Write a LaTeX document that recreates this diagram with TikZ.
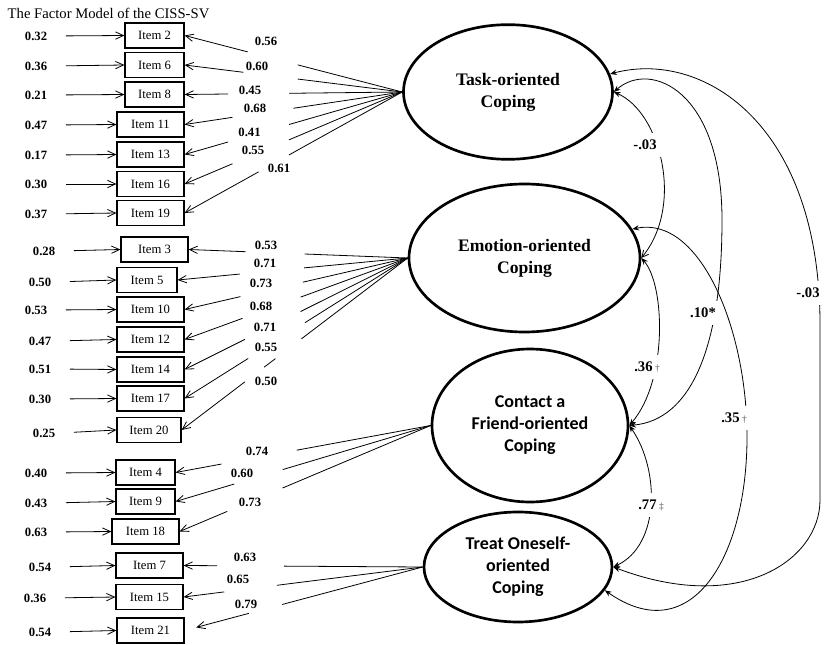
\documentclass[tikz,border=0pt]{standalone}
\usepackage{fontspec}
\setmainfont{Liberation Serif}
\newfontfamily\calibri{Carlito}
\usetikzlibrary{arrows.meta,shapes.geometric,calc}

\tikzset{
  item/.style={draw, line width=0.9pt, minimum height=18.75pt, inner sep=0pt, font=\fontsize{9.5}{11}\selectfont},
  err/.style={font=\fontsize{9.5}{11}\selectfont\bfseries},
  load/.style={line width=0.6pt},
  factor/.style={ellipse, draw, line width=2pt, align=center, inner sep=0pt},
  serifbf/.style={font=\fontsize{13.2}{16.3}\selectfont\bfseries},
  sansbf/.style={font=\calibri\fontsize{13.5}{16.5}\selectfont\bfseries},
  corr/.style={line width=0.6pt, {Stealth[length=5pt,width=4pt]}-{Stealth[length=5pt,width=4pt]}},
  coef/.style={font=\fontsize{11}{13}\selectfont\bfseries, fill=white, inner xsep=4pt, inner ysep=5pt},
  >={Straight Barb[length=6pt,width=5.5pt]}
}
\newcommand{\dg}[1]{{\fontsize{7}{7}\selectfont\color{gray}#1}}

\begin{document}
\begin{tikzpicture}[x=0.75pt,y=-0.75pt]
\useasboundingbox (0,0) rectangle (828,645);
\node[anchor=west, font=\fontsize{11}{13}\selectfont] (title) at (3,13) {The Factor Model of the CISS-SV};

% latent factors
\node[factor, serifbf, minimum width=156.75pt, minimum height=101pt] (task) at (508,92) {Task-oriented\\Coping};
\node[factor, serifbf, minimum width=173.25pt, minimum height=111pt] (emo) at (524.5,258) {Emotion-oriented\\Coping};
\node[factor, sansbf, minimum width=147pt, minimum height=114.75pt] (friend) at (530,425.5) {Contact a\\Friend-oriented\\Coping};
\node[factor, sansbf, minimum width=141pt, minimum height=82.5pt] (treat) at (518,567) {Treat Oneself-\\oriented\\Coping};

% observed items
\foreach \n/\x/\y/\w in {2/154.5/35.5/44.25, 6/154.5/65/44.25, 8/154.5/94.5/44.25,
  11/150.5/124.5/50.25, 13/150.5/154.5/50.25, 16/150.5/184/50.25, 19/150.5/213/50.25,
  3/154.5/249.5/50.25, 5/147/280/45, 10/150.5/309.5/50.25, 12/150.5/339.5/50.25,
  14/150.5/369.5/50.25, 17/150.5/398.5/50.25, 20/149/430/48,
  4/145.5/472.5/44.25, 9/145.5/501.5/44.25, 18/145.5/531.5/50.25,
  7/149.5/565.5/50.25, 15/149.5/597/50.25, 21/150.5/630.5/50.25}
  \node[item, minimum width=\w pt] (i\n) at (\x,\y) {Item \n};

% error terms
\foreach \n/\x/\y/\val in {2/36/36/0.32, 6/36/66/0.36, 8/36/95/0.21, 11/36/125/0.47,
  13/36/155/0.17, 16/36/184/0.30, 19/36/214/0.37,
  3/44/251/0.28, 5/40/282/0.50, 10/36/310/0.53, 12/40/341/0.47, 14/40/369/0.51,
  17/40/399/0.30, 20/44/433/0.25,
  4/36/473/0.40, 9/36/503/0.43, 18/36/532/0.63, 7/40/567/0.54, 15/35/598/0.36, 21/40/632/0.54}{
  \node[err] (e\n) at (\x,\y) {\val};
  \draw[load,->,shorten <=10.5pt] (e\n.east) -- (i\n.west);
}

% loadings
\foreach \n/\a/\b/\lab/\lx/\ly in {2/.48/.71/0.56/266/41, 6/.48/.73/0.60/257/66,
  8/.52/.80/0.45/250/90, 11/.50/.78/0.68/255/108, 13/.52/.80/0.41/249.5/132,
  16/.52/.78/0.55/253/150, 19/.52/.66/0.61/279/168}{
  \draw[load] (task.west) -- ($(task.west)!\a!(i\n.east)$);
  \draw[load,->] ($(task.west)!\b!(i\n.east)$) -- (i\n.east);
  \node[err] (l\n) at (\lx,\ly) {\lab};
}
\foreach \n/\a/\b/\lab/\lx/\ly in {3/.47/.74/0.53/266/245, 5/.45/.73/0.71/265/263,
  10/.47/.75/0.73/261/283, 12/.48/.74/0.68/261/306, 14/.48/.73/0.71/265/327,
  17/.46/.715/0.55/266/347, 20/.47/.72/0.50/266/381}{
  \draw[load] (emo.west) -- ($(emo.west)!\a!(i\n.east)$);
  \draw[load,->] ($(emo.west)!\b!(i\n.east)$) -- (i\n.east);
  \node[err] (l\n) at (\lx,\ly) {\lab};
}
\draw[load] ($(emo.west)!.585!(i20.east)$) -- ($(emo.west)!.635!(i20.east)$);
\foreach \n/\a/\b/\lab/\lx/\ly in {4/.525/.82/0.74/257/451, 9/.58/.77/0.60/242/473,
  18/.59/.81/0.73/250/502}{
  \draw[load] (friend.west) -- ($(friend.west)!\a!(i\n.east)$);
  \draw[load,->] ($(friend.west)!\b!(i\n.east)$) -- (i\n.east);
  \node[err] (l\n) at (\lx,\ly) {\lab};
}
\foreach \n/\a/\b/\lab/\lx/\ly/\s in {7/.58/.86/0.63/245/557/0pt, 15/.61/.83/0.65/238/579/0pt,
  21/.59/.73/0.79/246/604/9pt}{
  \draw[load] (treat.west) -- ($(treat.west)!\a!(i\n.east)$);
  \draw[load,->,shorten >=\s] ($(treat.west)!\b!(i\n.east)$) -- (i\n.east);
  \node[err] (l\n) at (\lx,\ly) {\lab};
}

% factor correlations
\draw[corr, {Stealth[length=5pt,width=4pt]}-{Straight Barb[length=5pt,width=5pt]}]
  (task.east) .. controls (660,112) and (685,205) .. (emo.east);
\draw[corr] (task.east) .. controls (650,60) and (722,90) .. (722,220)
  .. controls (722,350) and (690,420) .. (friend.east);
\draw[corr] (task.10) .. controls (700,50) and (818,120) .. (820,320) -- (820,500)
  .. controls (820,560) and (740,615) .. (treat.east);
\draw[corr] (emo.east) .. controls (665,285) and (668,380) .. (friend.east);
\draw[corr] (emo.15) .. controls (700,215) and (748,330) .. (747,440)
  .. controls (746,560) and (690,650) .. (treat.345);
\draw[corr] (friend.east) .. controls (660,470) and (660,545) .. (treat.east);

\node[coef] (c1) at (645,145) {-.03};
\node[coef] (c2) at (703,313) {.10*};
\node[coef] (c3) at (808,293) {-.03};
\node[coef] (c4) at (647,367) {.36\,\dg{†}};
\node[coef] (c5) at (734,418) {.35\,\dg{†}};
\node[coef] (c6) at (651,505) {.77\,\dg{‡}};
\end{tikzpicture}
\end{document}
